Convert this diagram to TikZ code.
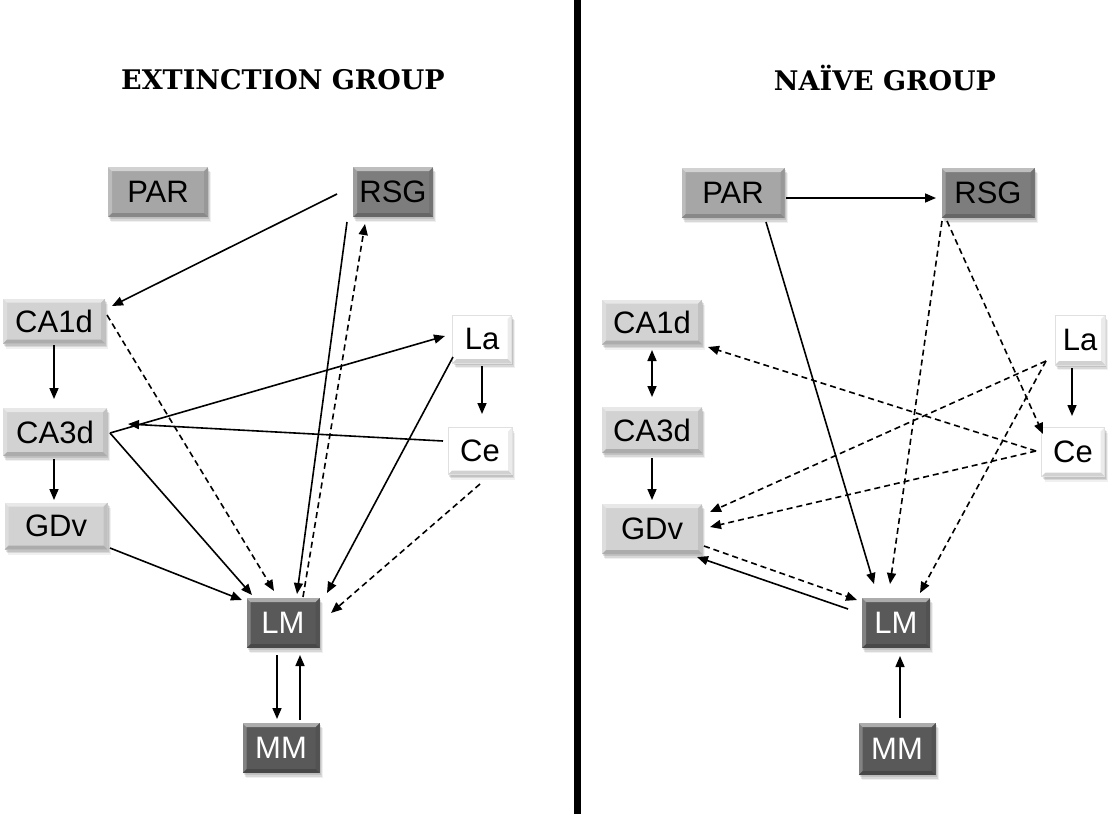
\documentclass[tikz,border=0pt]{standalone}
\usepackage{fontspec}
\setmainfont{Liberation Sans}
\newfontfamily\titlefont{DejaVu Serif}
\usetikzlibrary{arrows.meta,calc,shadows}

\definecolor{boxlight}{HTML}{D2D2D2}
\definecolor{boxmid}{HTML}{A6A6A6}
\definecolor{boxdark}{HTML}{7D7D7D}
\definecolor{boxdeep}{HTML}{595959}

\tikzset{
  bevel/.style={path picture={
    \fill[white,opacity=0.5]
      (path picture bounding box.north west) -- (path picture bounding box.north east)
      -- ([xshift=-4pt,yshift=-4pt]path picture bounding box.north east)
      -- ([xshift=4pt,yshift=-4pt]path picture bounding box.north west) -- cycle;
    \fill[white,opacity=0.25]
      (path picture bounding box.north west) -- (path picture bounding box.south west)
      -- ([xshift=4pt,yshift=4pt]path picture bounding box.south west)
      -- ([xshift=4pt,yshift=-4pt]path picture bounding box.north west) -- cycle;
    \fill[black,opacity=0.18]
      (path picture bounding box.south west) -- (path picture bounding box.south east)
      -- ([xshift=-4pt,yshift=4pt]path picture bounding box.south east)
      -- ([xshift=4pt,yshift=4pt]path picture bounding box.south west) -- cycle;
    \fill[black,opacity=0.08]
      (path picture bounding box.north east) -- (path picture bounding box.south east)
      -- ([xshift=-4pt,yshift=4pt]path picture bounding box.south east)
      -- ([xshift=-4pt,yshift=-4pt]path picture bounding box.north east) -- cycle;
  }},
  softshadow/.style={
    preaction={fill=black, opacity=0.10, transform canvas={xshift=1pt, yshift=-2pt}},
    preaction={fill=black, opacity=0.10, transform canvas={xshift=2pt, yshift=-3.5pt}},
    preaction={fill=black, opacity=0.06, transform canvas={xshift=3pt, yshift=-5pt}}},
  area/.style={fill=#1, inner sep=0pt, font=\fontsize{31}{33}\selectfont,
    softshadow, bevel},
  darkarea/.style={area=#1, text=white},
  whitearea/.style={area=white, draw=black!12, line width=0.8pt},
  heading/.style={anchor=base, inner sep=0pt, font=\titlefont\bfseries\fontsize{27}{29}\selectfont},
  link/.style={line width=1.6pt, -{Triangle[length=11pt,width=9pt]}},
  dlink/.style={link, dash pattern=on 6pt off 4pt},
  twoway/.style={line width=1.6pt, {Triangle[length=11pt,width=9pt]}-{Triangle[length=11pt,width=9pt]}}
}

\begin{document}
\begin{tikzpicture}[x=1pt,y=-1pt]
\useasboundingbox (0,0) rectangle (1110,814);

% dividing bar between the two groups
\fill[black] (574,0) rectangle (581,814);

% headings
\node[heading] (headL) at (283,89) {EXTINCTION GROUP};
\node[heading] (headR) at (885,90) {NAÏVE GROUP};

% ---------- extinction group ----------
\node[area=boxmid,  minimum width=100pt, minimum height=50pt] (parL)  at (158,192) {PAR};
\node[area=boxdark, minimum width=80pt,  minimum height=50pt] (rsgL)  at (393,192) {RSG};
\node[area=boxlight,minimum width=102pt, minimum height=45pt] (ca1L)  at (54,321)  {CA1d};
\node[area=boxlight,minimum width=104pt, minimum height=48pt] (ca3L)  at (55,432)  {CA3d};
\node[area=boxlight,minimum width=103pt, minimum height=47pt] (gdvL)  at (56,526)  {GDv};
\node[whitearea,    minimum width=59pt,  minimum height=48pt] (laL)   at (482,339) {La};
\node[whitearea,    minimum width=64pt,  minimum height=47pt] (ceL)   at (480,451) {Ce};
\node[darkarea=boxdeep, minimum width=73pt, minimum height=50pt] (lmL) at (283,623) {LM};
\node[darkarea=boxdeep, minimum width=77pt, minimum height=50pt] (mmL) at (281,748) {MM};

\draw[link]  ($(rsgL.center)+(-56,2)$)  -- ($(ca1L.center)+(58,-15)$);
\draw[dlink] ($(ca1L.center)+(53,-6)$)  -- ($(lmL.center)+(-9,-32)$);
\draw[link]  ($(ca1L.center)+(0,24)$)   -- ($(ca3L.center)+(-1,-33)$);
\draw[link]  ($(ca3L.center)+(-1,27)$)  -- ($(gdvL.center)+(-2,-26)$);
\draw[link]  ($(ca3L.center)+(55,1)$)   -- ($(laL.center)+(-37,-3)$);
\draw[link]  ($(ceL.center)+(-37,-10)$) -- ($(ca3L.center)+(73,-8)$);
\draw[link]  ($(ca3L.center)+(55,1)$)   -- ($(lmL.center)+(-31,-28)$);
\draw[link]  ($(gdvL.center)+(54,22)$)  -- ($(lmL.center)+(-41,-23)$);
\draw[link]  ($(rsgL.center)+(-46,30)$) -- ($(lmL.center)+(14,-29)$);
\draw[dlink] ($(lmL.center)+(20,-26)$)  -- ($(rsgL.center)+(-28,32)$);
\draw[link]  ($(laL.center)+(0,27)$)    -- ($(ceL.center)+(2,-37)$);
\draw[link]  ($(laL.center)+(-29,18)$)  -- ($(lmL.center)+(44,-30)$);
\draw[dlink] ($(ceL.center)+(0,33)$)    -- ($(lmL.center)+(48,-10)$);
\draw[link]  ($(lmL.center)+(-6,32)$)   -- ($(mmL.center)+(-4,-29)$);
\draw[link]  ($(mmL.center)+(19,-28)$)  -- ($(lmL.center)+(17,32)$);

% ---------- naive group ----------
\node[area=boxmid,  minimum width=103pt, minimum height=50pt] (parR)  at (733,193) {PAR};
\node[area=boxdark, minimum width=93pt,  minimum height=50pt] (rsgR)  at (988,193) {RSG};
\node[area=boxlight,minimum width=100pt, minimum height=45pt] (ca1R)  at (652,322) {CA1d};
\node[area=boxlight,minimum width=100pt, minimum height=46pt] (ca3R)  at (652,430) {CA3d};
\node[area=boxlight,minimum width=100pt, minimum height=50pt] (gdvR)  at (652,529) {GDv};
\node[whitearea,    minimum width=50pt,  minimum height=50pt] (laR)   at (1080,340) {La};
\node[whitearea,    minimum width=63pt,  minimum height=49pt] (ceR)   at (1073,452) {Ce};
\node[darkarea=boxdeep, minimum width=68pt, minimum height=50pt] (lmR) at (896,623) {LM};
\node[darkarea=boxdeep, minimum width=77pt, minimum height=52pt] (mmR) at (897,749) {MM};

\draw[link]   ($(parR.center)+(53,5)$)   -- ($(rsgR.center)+(-52,5)$);
\draw[link]   ($(parR.center)+(33,29)$)  -- ($(lmR.center)+(-22,-39)$);
\draw[dlink]  ($(rsgR.center)+(-46,28)$) -- ($(lmR.center)+(-6,-39)$);
\draw[dlink]  ($(rsgR.center)+(-41,28)$) -- ($(ceR.center)+(-30,-18)$);
\draw[twoway] ($(ca1R.center)+(0,28)$)   -- ($(ca3R.center)+(0,-33)$);
\draw[link]   ($(ca3R.center)+(0,28)$)   -- ($(gdvR.center)+(0,-29)$);
\draw[dlink]  ($(laR.center)+(-34,21)$)  -- ($(gdvR.center)+(58,-17)$);
\draw[dlink]  ($(laR.center)+(-34,21)$)  -- ($(lmR.center)+(24,-30)$);
\draw[dlink]  ($(ceR.center)+(-37,-1)$)  -- ($(ca1R.center)+(56,25)$);
\draw[dlink]  ($(ceR.center)+(-37,-1)$)  -- ($(gdvR.center)+(58,-2)$);
\draw[dlink]  ($(gdvR.center)+(52,17)$)  -- ($(lmR.center)+(-39,-23)$);
\draw[link]   ($(lmR.center)+(-48,-14)$) -- ($(gdvR.center)+(45,28)$);
\draw[link]   ($(laR.center)+(-8,28)$)   -- ($(ceR.center)+(-1,-36)$);
\draw[link]   ($(mmR.center)+(3,-31)$)   -- ($(lmR.center)+(4,33)$);
\end{tikzpicture}
\end{document}
